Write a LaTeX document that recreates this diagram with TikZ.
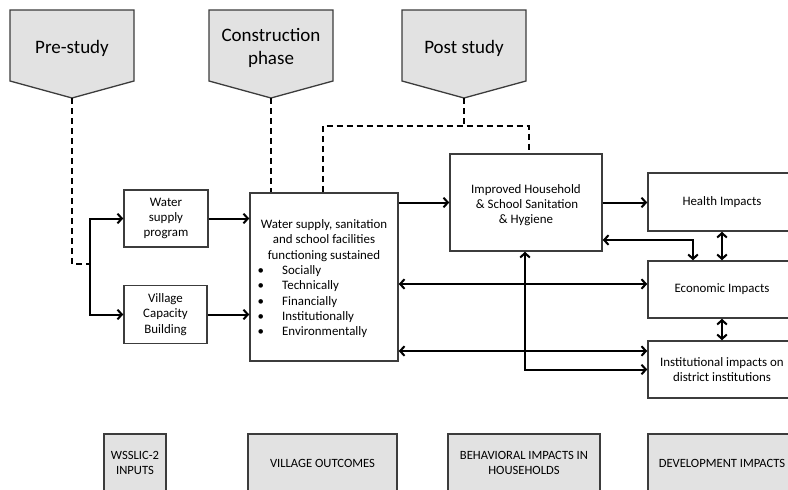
\documentclass[tikz,border=0pt]{standalone}
\usepackage{fontspec}
\setmainfont{Carlito}
\usetikzlibrary{arrows.meta}

\definecolor{phasefill}{HTML}{E2E2E2}
\definecolor{edgegray}{HTML}{3C3C3C}

\newcommand\bodyfont{\fontsize{12.9}{15.3}\selectfont}
\newcommand\phasefont{\fontsize{19}{23}\selectfont}
\newcommand\bandfont{\fontsize{12.6}{15}\selectfont}

\tikzset{
  box/.style={draw=edgegray, line width=1.3pt, inner sep=0pt, align=center, font=\bodyfont},
  band/.style={draw=edgegray, fill=phasefill, line width=1.3pt, inner sep=0pt, align=center, font=\bandfont},
  phase/.style={draw=edgegray, fill=phasefill, line width=1.3pt},
  phasetext/.style={inner sep=0pt, align=center, font=\phasefont},
  flow/.style={line width=2pt, -{Straight Barb[length=4.5pt,width=9.5pt]}},
  twoway/.style={line width=2pt, {Straight Barb[length=4.5pt,width=9.5pt]}-{Straight Barb[length=4.5pt,width=9.5pt]}},
  dashline/.style={line width=2pt, dash pattern=on 6pt off 4pt}
}

\begin{document}
\begin{tikzpicture}[x=1pt,y=-1pt]
\useasboundingbox (0,0) rectangle (788,490);

% phase markers
\draw[phase] (10,10) -- (134,10) -- (134,81) -- (72,98) -- (10,81) -- cycle;
\node[phasetext] (pre) at (72,48) {Pre-study};
\coordinate (pretip) at (72,98);

\draw[phase] (209,10) -- (333,10) -- (333,81) -- (271,98) -- (209,81) -- cycle;
\node[phasetext] (cons) at (271,47.5) {Construction\\phase};
\coordinate (constip) at (271,98);

\draw[phase] (402,10) -- (526,10) -- (526,81) -- (464,98) -- (402,81) -- cycle;
\node[phasetext] (post) at (464,48) {Post study};
\coordinate (posttip) at (464,98);

% inputs
\node[box, minimum width=84pt, minimum height=57pt] (wsp) at (166,218.5) {Water\\supply\\program};
\node[box, minimum width=83pt, minimum height=58pt] (vcb) at (165.5,314.5) {Village\\Capacity\\Building};

% village outcomes
\node[box, minimum width=148pt, minimum height=168pt] (main) at (324,277) {};
\node[inner sep=0pt, align=center, font=\bodyfont] (maintitle) at (324,240.5)
  {Water supply, sanitation\\and school facilities\\functioning sustained};
\node[inner sep=0pt, anchor=west, font=\bodyfont] (mainlist) at (257.5,302)
  {\begin{tabular}{@{}p{24.5pt}@{}l@{}}
   \textbullet & Socially\\
   \textbullet & Technically\\
   \textbullet & Financially\\
   \textbullet & Institutionally\\
   \textbullet & Environmentally
   \end{tabular}};

% household behaviour
\node[box, minimum width=152pt, minimum height=97pt] (imp) at (526,202.5) {};
\node[inner sep=0pt, align=center, font=\bodyfont] (imptext) at (526,205)
  {Improved Household\\\,\& School Sanitation\\\& Hygiene};

% development impacts
\node[box, minimum width=148pt, minimum height=58pt] (health) at (722,202) {Health Impacts};
\node[box, minimum width=148pt, minimum height=57pt] (econ) at (722,289.5) {Economic Impacts};
\node[box, minimum width=148pt, minimum height=57pt] (inst) at (722,369.5) {Institutional impacts on\\district institutions};

% column headings
\node[band, minimum width=62pt, minimum height=58pt] (hin) at (135,463) {WSSLIC-2\\INPUTS};
\node[band, minimum width=149pt, minimum height=58pt] (hout) at (322.5,463) {VILLAGE OUTCOMES};
\node[band, minimum width=152pt, minimum height=58pt] (hbeh) at (524,463) {BEHAVIORAL IMPACTS IN\\HOUSEHOLDS};
\node[band, minimum width=148pt, minimum height=58pt] (hdev) at (722,463) {DEVELOPMENT IMPACTS};

% dashed links from the phases
\coordinate (split) at (90,264);
\draw[dashline] (pretip) |- (split);
\draw[dashline] (constip) -- (constip |- main.north);
\coordinate (postjoin) at (464,126);
\coordinate (postleft) at (323,126);
\coordinate (postright) at (529,126);
\draw[dashline] (posttip) -- (postjoin);
\draw[dashline] (main.north -| postleft) -- (postleft) -- (postright) -- (postright |- imp.north);

% input flows
\draw[flow] (split) |- (wsp.west);
\draw[flow] (split) |- (vcb.west);
\draw[flow] (wsp.east) -- (wsp.east -| main.west);
\draw[flow] (vcb.east) -- (vcb.east -| main.west);

% outcome flows
\draw[flow] (main.east |- imp.west) -- (imp.west);
\draw[flow] (imp.east) -- (imp.east -| health.west);
\coordinate (impside) at ([yshift=-37.5pt]imp.east);
\coordinate (econtop) at ([xshift=-29pt]econ.north);
\draw[twoway] (impside) -| (econtop);
\draw[twoway] (health.south) -- (econ.north);
\draw[twoway] (econ.south) -- (inst.north);
\coordinate (econside) at ([yshift=5.5pt]econ.west);
\coordinate (instside) at ([yshift=18.5pt]inst.west);
\draw[twoway] (main.east |- econside) -- (econside);
\draw[twoway] (main.east |- instside) -- (instside);
\draw[twoway] ([xshift=-1pt]imp.south) |- (inst.west);
\end{tikzpicture}
\end{document}
